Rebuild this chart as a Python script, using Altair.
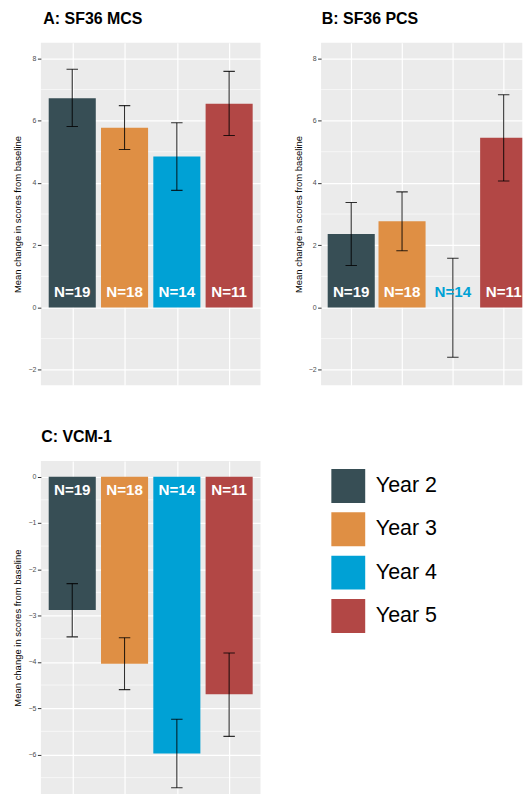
import altair as alt
import pandas as pd

years = ["Year 2", "Year 3", "Year 4", "Year 5"]
n_labels = ["N=19", "N=18", "N=14", "N=11"]
colors = ["#374E55", "#DF8F44", "#00A1D5", "#B24745"]

mcs_mean = [6.72, 5.77, 4.85, 6.54]
mcs_lo = [5.81, 5.07, 3.76, 5.52]
mcs_hi = [7.65, 6.48, 5.93, 7.58]

pcs_mean = [2.36, 2.77, 0.0, 5.45]
pcs_lo = [1.35, 1.82, -1.60, 4.06]
pcs_hi = [3.37, 3.71, 1.58, 6.83]

vcm_mean = [-2.88, -4.04, -5.98, -4.70]
vcm_lo = [-3.46, -4.60, -6.72, -5.61]
vcm_hi = [-2.31, -3.48, -5.24, -3.81]

ab_major = [-2, 0, 2, 4, 6, 8]
ab_minor = [-1, 1, 3, 5, 7]
c_major = [-6, -5, -4, -3, -2, -1, 0]
c_minor = [-6.5, -5.5, -4.5, -3.5, -2.5, -1.5, -0.5]

FONT = "Liberation Sans"
YTITLE = "Mean change in scores from baseline"
color_scale = alt.Scale(domain=years, range=colors)


def panel(title, mean, lo, hi, domain, major, minor, label_y, width, height,
          x_pad=0.6, x_align=0.5, legend=None, label_cond=False, title_dx=0):
    df = pd.DataFrame({"year": years, "n": n_labels, "mean": mean, "lo": lo, "hi": hi})
    minor_df = pd.DataFrame({"tick": minor})
    x_scale = alt.Scale(type="point", domain=years, padding=x_pad, align=x_align)
    y_scale = alt.Scale(domain=domain, nice=False, zero=False)
    x_axis = alt.Axis(grid=True, gridColor="white", gridWidth=1.2, labels=False,
                      ticks=False, domain=False, title=None, minExtent=0, maxExtent=0)
    y_axis = alt.Axis(values=major, grid=True, gridColor="white", gridWidth=1.2,
                      domain=False, ticks=True, tickSize=3.5, tickColor="#333333",
                      tickWidth=1, labelFont=FONT, labelFontSize=7, labelColor="#4d4d4d",
                      labelPadding=1.5, minExtent=12, maxExtent=12, title=YTITLE,
                      titleFont=FONT, titleFontSize=9.5, titleFontWeight="normal",
                      titleColor="black", titlePadding=6)
    X = alt.X("year:N", scale=x_scale, axis=x_axis)

    minor_layer = alt.Chart(minor_df).mark_rule(color="white", strokeWidth=0.6).encode(
        y=alt.Y("tick:Q", scale=y_scale, axis=y_axis)
    )
    base = alt.Chart(df)
    bars = base.mark_bar(clip=True, width=47.25).encode(
        x=X,
        y=alt.Y("mean:Q", scale=y_scale, axis=y_axis),
        y2=alt.datum(0),
        color=alt.Color("year:N", scale=color_scale, legend=legend),
    )
    err = base.mark_rule(clip=True, color="black", opacity=0.8, strokeWidth=1.1).encode(
        x=X, y=alt.Y("lo:Q", scale=y_scale, axis=y_axis), y2="hi:Q"
    )
    cap_lo = base.mark_tick(clip=True, color="black", opacity=0.8, thickness=1.1, size=11.5).encode(
        x=X, y=alt.Y("lo:Q", scale=y_scale, axis=y_axis)
    )
    cap_hi = base.mark_tick(clip=True, color="black", opacity=0.8, thickness=1.1, size=11.5).encode(
        x=X, y=alt.Y("hi:Q", scale=y_scale, axis=y_axis)
    )
    if label_cond:
        tcolor = alt.condition("datum.mean == 0",
                               alt.Color("year:N", scale=color_scale, legend=None),
                               alt.value("white"))
    else:
        tcolor = alt.value("white")
    text = base.mark_text(font=FONT, fontSize=15.2, fontWeight="bold",
                          baseline="alphabetic", align="center").encode(
        x=X,
        y=alt.YDatum(label_y, type="quantitative", scale=y_scale, axis=y_axis),
        text="n:N",
        color=tcolor,
    )
    return alt.layer(minor_layer, bars, err, cap_lo, cap_hi, text).properties(
        width=width, height=height,
        title=alt.TitleParams(title, anchor="start", frame="group", font=FONT,
                              fontSize=16, fontWeight="bold", color="black",
                              offset=15.9, dx=title_dx),
    )


A = panel("A: SF36 MCS", mcs_mean, mcs_lo, mcs_hi, [-2.5, 8.5], ab_major, ab_minor,
          0.35, 220.5, 344, title_dx=2.5)
B = panel("B: SF36 PCS", pcs_mean, pcs_lo, pcs_hi, [-2.5, 8.5], ab_major, ab_minor,
          0.35, 202, 344, x_pad=0.48, x_align=0.618, label_cond=True, title_dx=0.7)
legend = alt.Legend(title=None, orient="none", legendX=291.6, legendY=8.0,
                    symbolType="square", symbolSize=1156, symbolStrokeWidth=0,
                    symbolOpacity=1, labelFont=FONT, labelFontSize=21.5,
                    labelColor="black", labelOffset=10.7, rowPadding=9.5, padding=0)
C = panel("C: VCM-1", vcm_mean, vcm_lo, vcm_hi, [-6.855, 0.336], c_major, c_minor,
          -0.40, 220.5, 334.3, legend=legend, title_dx=0.3)

row1 = alt.hconcat(A, B, spacing=32.3).resolve_scale(color="independent")
row2 = alt.hconcat(C, spacing=32).resolve_scale(color="independent")
chart = alt.vconcat(row1, row2, spacing=44.0).resolve_scale(color="independent").properties(
    padding={"left": 5, "top": 1.3, "right": 0, "bottom": 0}, background="white"
).configure_view(fill="#EBEBEB", stroke=None)

chart.save("out.html", embed_options={"renderer": "svg", "actions": False})
